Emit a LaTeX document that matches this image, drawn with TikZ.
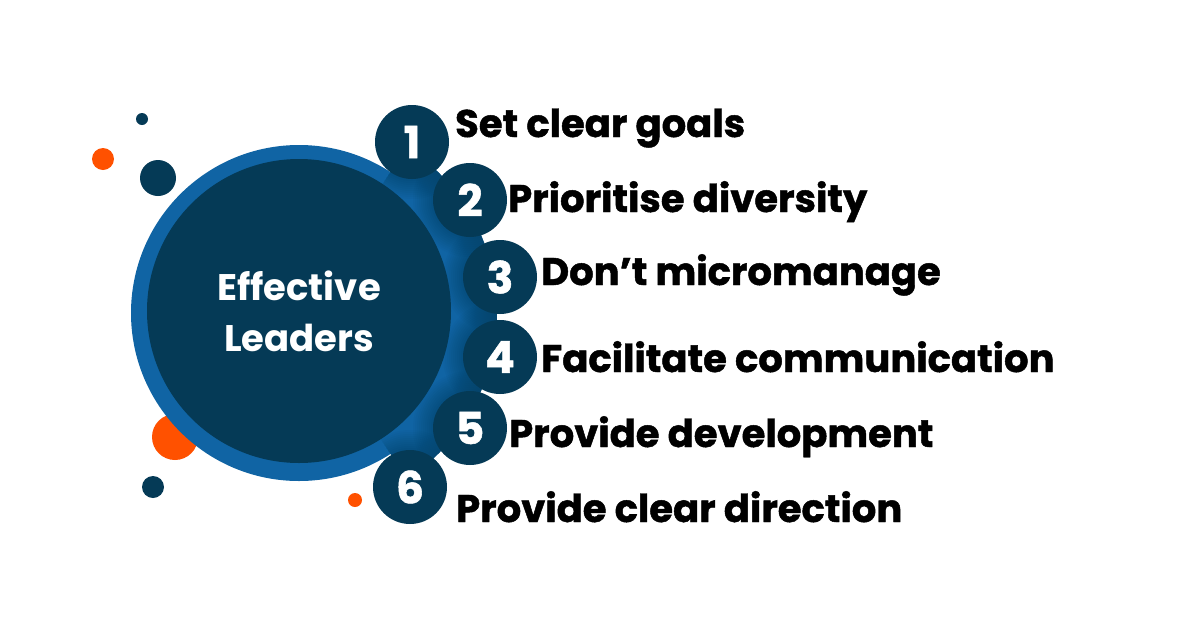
\documentclass[tikz,border=0pt]{standalone}
\usepackage{fontspec}
\setmainfont{Poppins}
\newfontfamily\heavyfont{Poppins}[BoldFeatures={FakeBold=1.2}]
\definecolor{navy}{HTML}{053A56}
\definecolor{ringblue}{HTML}{1064A4}
\definecolor{dotorange}{HTML}{FF5100}
\tikzset{
  numc/.style={circle, fill=navy, minimum size=74pt, inner sep=0pt, text=white,
    font=\heavyfont\fontsize{44}{46}\selectfont\bfseries},
  lbl/.style={anchor=base west, inner sep=0pt, text=black,
    font=\heavyfont\fontsize{38.5}{42}\selectfont\bfseries},
  dotn/.style={fill=navy},
  doto/.style={fill=dotorange},
}
\begin{document}
\begin{tikzpicture}[x=1pt,y=-1pt]
\useasboundingbox (0,0) rectangle (1200,630);
\fill[white] (0,0) rectangle (1200,630);
\coordinate (C) at (299,313);
% decorative dots
\fill[dotn] (142,119) circle (6);
\fill[doto] (103,159) circle (11);
\fill[dotn] (158,178) circle (18);
\fill[doto] (175,437) circle (23);
\fill[dotn] (153,487) circle (11);
\fill[doto] (355,500) circle (7);
% blue band and ring
\fill[ringblue] (C) -- ++(-57:198) arc[start angle=-57, end angle=57, radius=198] -- cycle;
\fill[ringblue] (C) circle (168);
% soft shadows of the number circles
\begin{scope}
  \clip (C) -- ++(-57:198) arc[start angle=-57, end angle=57, radius=198] -- cycle;
  \foreach \p in {(412,142),(470,200),(500,277),(500,357),(470,428),(410,487)}{
    \foreach \k in {1,...,10}{
      \fill[navy, opacity=0.05] \p circle (37+\k*2);
    }
  }
\end{scope}
% main circle
\node[circle, fill=navy, minimum size=304pt, inner sep=0pt, text=white, align=center,
  font=\fontsize{37}{51}\selectfont\bfseries] (main) at (299,311) {Effective\\Leaders};
% number circles
\node[numc] (c1) at (412,142) {1};
\node[numc] (c2) at (470,200) {2};
\node[numc] (c3) at (500,277) {3};
\node[numc] (c4) at (500,357) {4};
\node[numc] (c5) at (470,428) {5};
\node[numc] (c6) at (410,487) {6};
% labels
\node[lbl] (l1) at (455,137) {Set clear goals};
\node[lbl] (l2) at (508,212) {Prioritise diversity};
\node[lbl] (l3) at (541,285) {Don’t micromanage};
\node[lbl] (l4) at (541,372) {Facilitate communication};
\node[lbl] (l5) at (509,447) {Provide development};
\node[lbl] (l6) at (456,522) {Provide clear direction};
\end{tikzpicture}
\end{document}
